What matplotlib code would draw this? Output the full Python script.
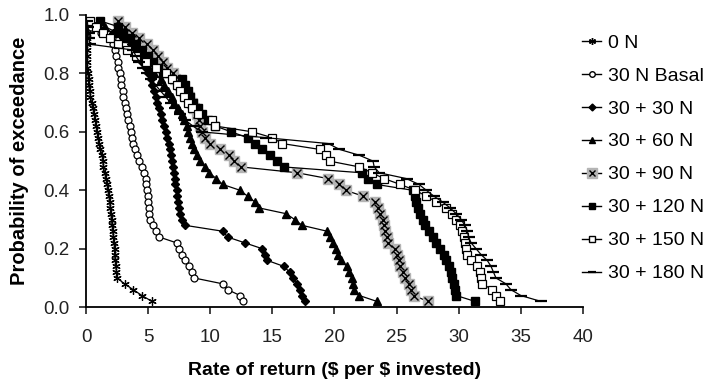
import matplotlib
matplotlib.use('Agg')
import matplotlib.pyplot as plt
import matplotlib.lines as mlines
from matplotlib.legend_handler import HandlerTuple

plt.rcParams['font.family'] = ['Liberation Sans', 'DejaVu Sans']

# exceedance probability levels (shared by all series)
prob = [0.98, 0.96, 0.94, 0.92, 0.90, 0.88, 0.86, 0.84, 0.82, 0.80,
        0.78, 0.76, 0.74, 0.72, 0.70, 0.68, 0.66, 0.64, 0.62, 0.60,
        0.58, 0.56, 0.54, 0.52, 0.50, 0.48, 0.46, 0.44, 0.42, 0.40,
        0.38, 0.36, 0.34, 0.32, 0.30, 0.28, 0.26, 0.24, 0.22, 0.20,
        0.18, 0.16, 0.14, 0.12, 0.10, 0.08, 0.06, 0.04, 0.02]

# rate of return ($ per $ invested)
r_0N = [0.0, 0.0, 0.05, 0.05, 0.05, 0.05, 0.1, 0.1, 0.1, 0.15,
        0.2, 0.2, 0.3, 0.35, 0.45, 0.55, 0.65, 0.75, 0.8, 0.9,
        0.95, 1.05, 1.15, 1.3, 1.35, 1.4, 1.5, 1.6, 1.7, 1.75,
        1.85, 1.9, 1.95, 2.0, 2.05, 2.1, 2.15, 2.2, 2.25, 2.3,
        2.3, 2.35, 2.4, 2.45, 2.5, 3.1, 3.8, 4.5, 5.3]
r_basal = [0.0, 0.4, 1.2, 2.1, 2.2, 2.35, 2.45, 2.55, 2.6, 2.7,
           2.8, 2.85, 2.95, 3.0, 3.1, 3.2, 3.3, 3.4, 3.5, 3.6,
           3.7, 3.8, 3.95, 4.1, 4.3, 4.5, 4.7, 4.8, 4.85, 4.9,
           4.95, 5.0, 5.05, 5.1, 5.15, 5.4, 5.6, 5.9, 7.3, 7.5,
           7.7, 8.0, 8.3, 8.5, 8.7, 11.0, 11.4, 12.4, 12.6]
r_30 = [0.2, 1.0, 2.2, 3.0, 3.6, 4.0, 4.3, 4.5, 4.8, 5.0,
        5.2, 5.3, 5.45, 5.6, 5.75, 5.9, 6.0, 6.15, 6.3, 6.45,
        6.55, 6.65, 6.75, 6.85, 6.95, 7.0, 7.1, 7.15, 7.2, 7.3,
        7.35, 7.4, 7.45, 7.55, 7.7, 8.0, 11.0, 11.4, 12.8, 14.2,
        14.4, 14.6, 15.9, 16.4, 16.7, 17.0, 17.2, 17.4, 17.6]
r_60 = [0.4, 1.5, 2.5, 3.3, 3.9, 4.4, 4.7, 4.9, 5.1, 5.5,
        6.0, 6.3, 6.6, 6.9, 7.1, 7.4, 7.7, 7.9, 8.1, 8.2,
        8.35, 8.5, 8.7, 8.9, 9.2, 9.6, 9.9, 10.5, 11.0, 12.4,
        13.0, 13.6, 13.9, 16.1, 16.8, 17.4, 19.4, 19.6, 19.9, 20.1,
        20.3, 20.5, 21.0, 21.2, 21.4, 21.5, 21.6, 22.0, 23.4]
r_90 = [2.6, 3.1, 3.7, 4.3, 4.9, 5.4, 5.8, 6.2, 6.5, 7.0,
        7.2, 7.6, 7.9, 8.3, 8.5, 8.7, 8.9, 9.1, 9.2, 9.3,
        9.6, 10.0, 10.8, 11.5, 11.9, 12.5, 17.0, 19.5, 20.4, 20.9,
        22.3, 23.3, 23.5, 23.7, 23.9, 24.0, 24.1, 24.2, 24.3, 24.9,
        25.0, 25.2, 25.3, 25.5, 25.7, 26.0, 26.2, 26.4, 27.5]
r_120 = [1.1, 2.6, 3.0, 3.5, 4.0, 4.5, 5.0, 5.4, 5.8, 6.2,
         7.7, 8.0, 8.2, 8.4, 8.6, 9.0, 9.3, 9.8, 10.4, 11.7,
         13.0, 13.6, 14.2, 14.8, 15.4, 15.9, 22.2, 22.7, 23.4, 26.3,
         26.5, 26.6, 26.7, 26.9, 27.1, 27.3, 27.6, 27.9, 28.2, 28.5,
         28.8, 29.0, 29.2, 29.4, 29.5, 29.6, 29.7, 29.8, 31.3]
r_150 = [0.3, 0.8, 1.4, 1.9, 2.6, 3.3, 4.0, 4.8, 5.6, 6.4,
         6.9, 7.3, 7.6, 7.9, 8.2, 8.5, 9.0, 10.1, 10.4, 13.4,
         15.0, 15.8, 18.8, 19.3, 19.6, 22.0, 23.0, 24.0, 25.3, 26.5,
         27.4, 28.2, 29.0, 29.5, 29.8, 30.1, 30.3, 30.4, 30.5, 30.6,
         30.7, 31.0, 31.5, 31.7, 31.8, 31.9, 32.7, 33.0, 33.3]
r_180 = [0.1, 0.15, 0.2, 0.25, 0.3, 3.8, 4.0, 4.3, 4.6, 4.9,
         5.2, 5.6, 6.0, 6.4, 6.8, 7.2, 7.6, 8.0, 8.6, 9.3,
         14.5, 19.5, 20.4, 22.0, 23.1, 23.2, 23.6, 25.8, 26.8, 27.4,
         28.0, 28.7, 29.3, 29.8, 30.2, 30.5, 30.7, 30.8, 31.0, 31.4,
         31.8, 32.3, 32.6, 32.8, 33.0, 33.8, 34.2, 35.0, 36.6]

labels = ['0 N', '30 N Basal', '30 + 30 N', '30 + 60 N', '30 + 90 N',
          '30 + 120 N', '30 + 150 N', '30 + 180 N']

fig = plt.figure(figsize=(7.17, 3.84), dpi=100)
ax = fig.add_axes([0.12, 0.2, 0.693, 0.761])

lw = 0.9
grey = '#b4b4b4'
ax.plot(r_0N, prob, color='k', lw=lw, marker=(6, 2, 0), ms=6, mew=0.9)
ax.plot(r_basal, prob, color='k', lw=lw, marker='o', ms=5, mfc='white', mec='k', mew=0.9)
ax.plot(r_30, prob, color='k', lw=lw, marker='D', ms=4.5, mfc='k', mec='k')
ax.plot(r_60, prob, color='k', lw=lw, marker='^', ms=5.5, mfc='k', mec='k')
# 30+90: x markers on grey squares
ax.plot(r_90, prob, color='k', lw=lw, marker='s', ms=7.5, mfc=grey, mec=grey)
ax.plot(r_90, prob, ls='none', marker='x', ms=6, mec='k', mew=1.0)
ax.plot(r_120, prob, color='k', lw=lw, marker='s', ms=5.5, mfc='k', mec='k')
ax.plot(r_150, prob, color='k', lw=lw, marker='s', ms=5.5, mfc='white', mec='k', mew=0.9)
ax.plot(r_180, prob, color='k', lw=lw, marker='_', ms=8, mec='k', mew=1.6)

ax.set_xlim(0, 40)
ax.set_ylim(0, 1.0)
ax.set_xticks([0, 5, 10, 15, 20, 25, 30, 35, 40])
ax.set_yticks([0.0, 0.2, 0.4, 0.6, 0.8, 1.0])
ax.set_yticklabels(['0.0', '0.2', '0.4', '0.6', '0.8', '1.0'])
ax.spines['top'].set_visible(False)
ax.spines['right'].set_visible(False)
ax.spines['left'].set_linewidth(1.3)
ax.spines['bottom'].set_linewidth(1.3)
ax.tick_params(direction='out', length=5, width=1.2, labelsize=13.5, colors='#222222')
ax.tick_params(axis='x', pad=11)
ax.tick_params(axis='y', pad=7)
ax.set_xlabel('Rate of return (\\$ per \\$ invested)', fontsize=14, fontweight='bold', labelpad=11)
ax.set_ylabel('Probability of exceedance', fontsize=14.5, fontweight='bold', labelpad=10)

# legend handles: smaller markers like the original
leg_h = [
    mlines.Line2D([], [], color='k', lw=1, marker=(6, 2, 0), ms=5),
    mlines.Line2D([], [], color='k', lw=1, marker='o', ms=4, mfc='white', mec='k'),
    mlines.Line2D([], [], color='k', lw=1, marker='D', ms=3.5, mfc='k'),
    mlines.Line2D([], [], color='k', lw=1, marker='^', ms=4.5, mfc='k'),
    (mlines.Line2D([], [], color='k', lw=1, marker='s', ms=6.5, mfc=grey, mec=grey),
     mlines.Line2D([], [], ls='none', marker='x', ms=5, mec='k')),
    mlines.Line2D([], [], color='k', lw=1, marker='s', ms=4.5, mfc='k'),
    mlines.Line2D([], [], color='k', lw=1, marker='s', ms=4.5, mfc='white', mec='k'),
    mlines.Line2D([], [], color='k', lw=1, marker='_', ms=6, mew=1.6),
]
ax.legend(leg_h, labels, loc='upper left', bbox_to_anchor=(0.998, 0.935),
          frameon=False, fontsize=14, labelspacing=0.79, handlelength=1.0,
          handletextpad=0.35, borderaxespad=0, borderpad=0,
          handler_map={tuple: HandlerTuple(ndivide=1)})

fig.savefig('out.png', dpi=100)
